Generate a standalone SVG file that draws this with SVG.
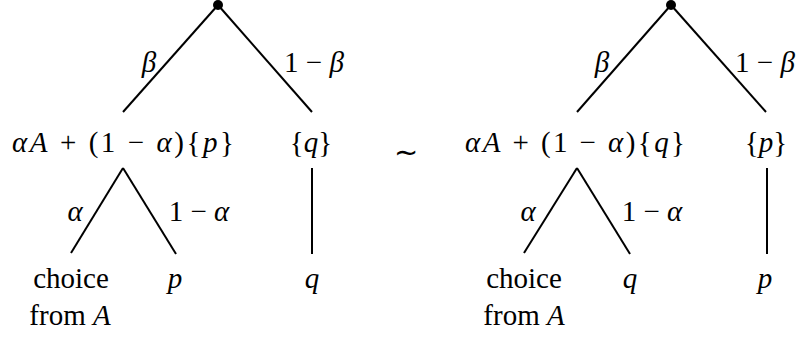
<svg xmlns="http://www.w3.org/2000/svg" width="805" height="337" viewBox="0 0 805 337">
<style>
.t{font-family:"Liberation Serif",serif;font-size:29px;fill:#000;text-anchor:middle}
.i{font-style:italic}
.e{stroke:#000;stroke-width:2;fill:none}
.d{fill:#000}
</style>
<rect width="805" height="337" fill="#fff"/>
<g id="connectors">
<line class="e" x1="218" y1="5" x2="123" y2="112"/>
<line class="e" x1="218" y1="5" x2="312" y2="112"/>
<line class="e" x1="123" y1="168" x2="71" y2="253"/>
<line class="e" x1="123" y1="168" x2="176" y2="254"/>
<line class="e" x1="312" y1="168" x2="312" y2="254"/>
<line class="e" x1="671" y1="5" x2="577" y2="112"/>
<line class="e" x1="671" y1="5" x2="766" y2="112"/>
<line class="e" x1="577" y1="168" x2="524" y2="253"/>
<line class="e" x1="577" y1="168" x2="630" y2="254"/>
<line class="e" x1="767" y1="168" x2="767" y2="254"/>
<text class="t" x="149" y="72"><tspan class="i">β</tspan></text>
<text class="t" x="314" y="72">1 − <tspan class="i">β</tspan></text>
<text class="t" x="75" y="221"><tspan class="i">α</tspan></text>
<text class="t" x="199" y="221">1 − <tspan class="i">α</tspan></text>
<text class="t" x="602" y="72"><tspan class="i">β</tspan></text>
<text class="t" x="765" y="72">1 − <tspan class="i">β</tspan></text>
<text class="t" x="528" y="221"><tspan class="i">α</tspan></text>
<text class="t" x="652" y="221">1 − <tspan class="i">α</tspan></text>
</g>
<g id="rootL"><circle class="d" cx="218" cy="5" r="5"/></g>
<g id="mixL"><text class="t" x="123" y="152" textLength="222" lengthAdjust="spacing"><tspan class="i">αA</tspan> + (1 − <tspan class="i">α</tspan>){<tspan class="i">p</tspan>}</text></g>
<g id="setqL"><text class="t" x="311" y="152">{<tspan class="i">q</tspan>}</text></g>
<g id="choiceL"><text class="t" x="71" y="288">choice</text><text class="t" x="70" y="325">from <tspan class="i">A</tspan></text></g>
<g id="pL"><text class="t" x="175" y="288"><tspan class="i">p</tspan></text></g>
<g id="qL"><text class="t" x="312" y="288"><tspan class="i">q</tspan></text></g>
<g id="sim"><text class="t" x="406" y="162">∼</text></g>
<g id="rootR"><circle class="d" cx="671" cy="5" r="5"/></g>
<g id="mixR"><text class="t" x="575" y="152" textLength="220" lengthAdjust="spacing"><tspan class="i">αA</tspan> + (1 − <tspan class="i">α</tspan>){<tspan class="i">q</tspan>}</text></g>
<g id="setpR"><text class="t" x="766" y="152">{<tspan class="i">p</tspan>}</text></g>
<g id="choiceR"><text class="t" x="524" y="288">choice</text><text class="t" x="524" y="325">from <tspan class="i">A</tspan></text></g>
<g id="qR"><text class="t" x="630" y="288"><tspan class="i">q</tspan></text></g>
<g id="pR"><text class="t" x="765" y="288"><tspan class="i">p</tspan></text></g>
</svg>
